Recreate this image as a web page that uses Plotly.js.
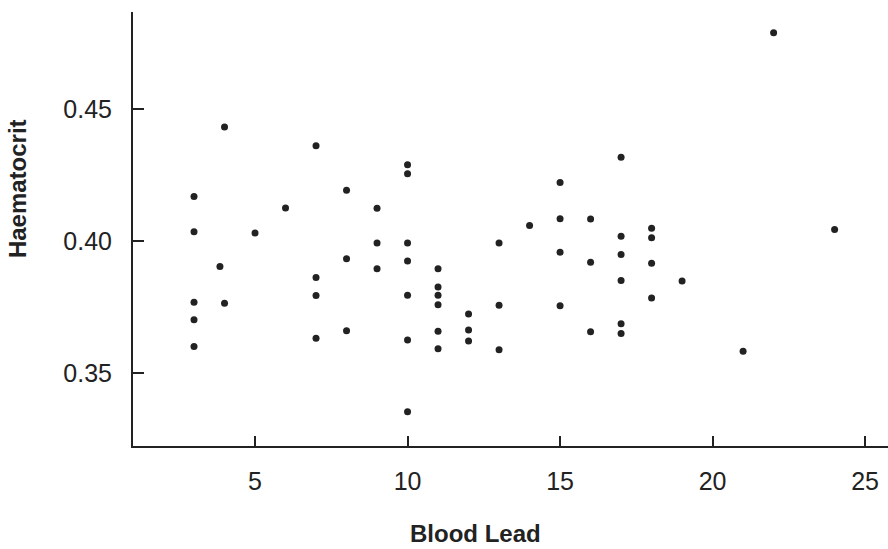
<!DOCTYPE html>
<html>
<head>
<meta charset="utf-8">
<script src="https://cdn.plot.ly/plotly-3.0.1.min.js"></script>
<style>html,body{margin:0;padding:0;background:#fff;}#chart{width:888px;height:549px;}</style>
</head>
<body>
<div id="chart"></div>
<script>
// Blood lead (x) and haematocrit (y)
const bloodLead = [
  3, 3, 3, 3, 3,
  3.85, 4, 4,
  5, 6,
  7, 7, 7, 7,
  8, 8, 8,
  9, 9, 9,
  10, 10, 10, 10, 10, 10, 10,
  11, 11, 11, 11, 11, 11,
  12, 12, 12,
  13, 13, 13,
  14,
  15, 15, 15, 15,
  16, 16, 16,
  17, 17, 17, 17, 17, 17,
  18, 18, 18, 18,
  19, 21, 22, 24
];
const haematocrit = [
  0.417, 0.4037, 0.377, 0.3703, 0.3602,
  0.3905, 0.4433, 0.3766,
  0.4032, 0.4127,
  0.4362, 0.3863, 0.3795, 0.3633,
  0.4194, 0.3934, 0.3662,
  0.4126, 0.3994, 0.3896,
  0.429, 0.4256, 0.3994, 0.3926, 0.3796, 0.3627, 0.3355,
  0.3896, 0.3827, 0.3796, 0.376, 0.366, 0.3593,
  0.3725, 0.3664, 0.3623,
  0.3994, 0.3758, 0.359,
  0.406,
  0.4223, 0.4086, 0.3959, 0.3756,
  0.4085, 0.3921, 0.3658,
  0.4319, 0.402, 0.395, 0.3852, 0.3688, 0.3651,
  0.405, 0.4014, 0.3917, 0.3786,
  0.385, 0.3584, 0.479, 0.4045
];
const xTicks = [5, 10, 15, 20, 25];
const yTicks = [0.35, 0.40, 0.45];
const yTickText = ["0.35", "0.40", "0.45"];
const xTitle = "Blood Lead";
const yTitle = "Haematocrit";

const ink = "#222222";
const font = "Liberation Sans, Arial, Helvetica, sans-serif";

const trace = {
  x: bloodLead,
  y: haematocrit,
  type: "scatter",
  mode: "markers",
  marker: {size: 7, color: ink},
  hoverinfo: "x+y"
};

const layout = {
  width: 888,
  height: 549,
  margin: {l: 133, r: 0, t: 12, b: 103, pad: 0},
  paper_bgcolor: "#ffffff",
  plot_bgcolor: "#ffffff",
  showlegend: false,
  font: {family: font, color: ink, size: 25},
  xaxis: {
    range: [1, 25.75],
    tickvals: xTicks,
    ticktext: xTicks.map(String),
    ticks: "inside",
    ticklen: 10,
    tickwidth: 2,
    tickcolor: ink,
    showline: true,
    linewidth: 2,
    linecolor: ink,
    showgrid: false,
    zeroline: false,
    ticklabelstandoff: 12,
    tickfont: {family: font, size: 25, color: ink}
  },
  yaxis: {
    range: [0.3225, 0.4869],
    tickvals: yTicks,
    ticktext: yTickText,
    ticks: "inside",
    ticklen: 11,
    tickwidth: 2,
    tickcolor: ink,
    showline: true,
    linewidth: 2,
    linecolor: ink,
    showgrid: false,
    zeroline: false,
    ticklabelstandoff: 14,
    tickfont: {family: font, size: 25, color: ink}
  },
  annotations: [
    {
      text: "<b>" + xTitle + "</b>",
      xref: "paper", yref: "paper",
      x: 0.4543, y: -0.2005,
      xanchor: "center", yanchor: "middle",
      showarrow: false,
      font: {family: font, size: 24, color: ink}
    },
    {
      text: "<b>" + yTitle + "</b>",
      xref: "paper", yref: "paper",
      x: -0.1536, y: 0.592,
      xanchor: "center", yanchor: "middle",
      textangle: -90,
      showarrow: false,
      font: {family: font, size: 24, color: ink}
    }
  ]
};

Plotly.newPlot("chart", [trace], layout, {displayModeBar: false, staticPlot: true});
</script>
</body>
</html>
